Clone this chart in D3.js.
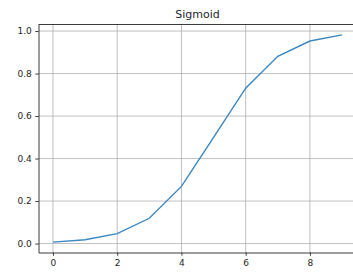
<!DOCTYPE html>
<html>
<head>
    <style>
        body { margin: 0; background: #fff; }
        svg { display: block; }
        .tick text { font: 9px "DejaVu Sans", sans-serif; fill: #262626; }
        .grid line { stroke: #b0b0b0; stroke-width: 0.8; }
        .title { font: 11px "DejaVu Sans", sans-serif; fill: #262626; text-anchor: middle; }
    </style>
    <script src="https://d3js.org/d3.v7.min.js"></script>
</head>
<body>
    <svg width="353" height="274"></svg>
    <script>
    var xs = [0, 1, 2, 3, 4, 5, 6, 7, 8, 9];
    var ys = [0.0067, 0.018, 0.047, 0.119, 0.269, 0.5, 0.731, 0.881, 0.953, 0.982];
    var xTicks = [0, 2, 4, 6, 8];
    var yTicks = [0.0, 0.2, 0.4, 0.6, 0.8, 1.0];

    function drawChart() {
        var svg = d3.select("svg");
        var left = 38.5, right = 356.5, top = 24.5, bottom = 252.5;

        var x = d3.scaleLinear().domain([-0.45, 9.45]).range([left, right]);
        var y = d3.scaleLinear().domain([-0.0421, 1.0308]).range([bottom, top]);

        // grid
        svg.append("g").attr("class", "grid")
           .selectAll("line").data(xTicks).enter().append("line")
           .attr("x1", function(d) { return x(d); })
           .attr("x2", function(d) { return x(d); })
           .attr("y1", top).attr("y2", bottom);
        svg.append("g").attr("class", "grid")
           .selectAll("line").data(yTicks).enter().append("line")
           .attr("y1", function(d) { return y(d); })
           .attr("y2", function(d) { return y(d); })
           .attr("x1", left).attr("x2", right);

        // line
        var line = d3.line()
                     .x(function(d, i) { return x(xs[i]); })
                     .y(function(d) { return y(d); });
        svg.append("path")
           .datum(ys)
           .attr("d", line)
           .attr("fill", "none")
           .attr("stroke", "#3a87c1")
           .attr("stroke-width", 1.4);

        // axes
        var xAxis = svg.append("g")
           .attr("transform", "translate(0," + bottom + ")")
           .call(d3.axisBottom(x).tickValues(xTicks).tickFormat(d3.format("d")).tickSizeInner(3.2).tickSizeOuter(0).tickPadding(3.5));
        var yAxis = svg.append("g")
           .attr("transform", "translate(" + left + ",0)")
           .call(d3.axisLeft(y).tickValues(yTicks).tickFormat(d3.format(".1f")).tickSizeInner(3.2).tickSizeOuter(0).tickPadding(3.5));
        [xAxis, yAxis].forEach(function(a) {
            a.select(".domain").attr("stroke", "#262626").attr("stroke-width", 0.9);
            a.selectAll(".tick line").attr("stroke", "#262626").attr("stroke-width", 0.9);
        });

        svg.append("line")
           .attr("x1", left).attr("x2", right).attr("y1", top).attr("y2", top)
           .attr("stroke", "#262626").attr("stroke-width", 0.9);
        svg.append("line")
           .attr("x1", right).attr("x2", right).attr("y1", top).attr("y2", bottom)
           .attr("stroke", "#262626").attr("stroke-width", 0.9);

        svg.append("text")
           .attr("class", "title")
           .attr("x", (left + right) / 2)
           .attr("y", 17.5)
           .text("Sigmoid");
    }
    drawChart();
    </script>
</body>
</html>
